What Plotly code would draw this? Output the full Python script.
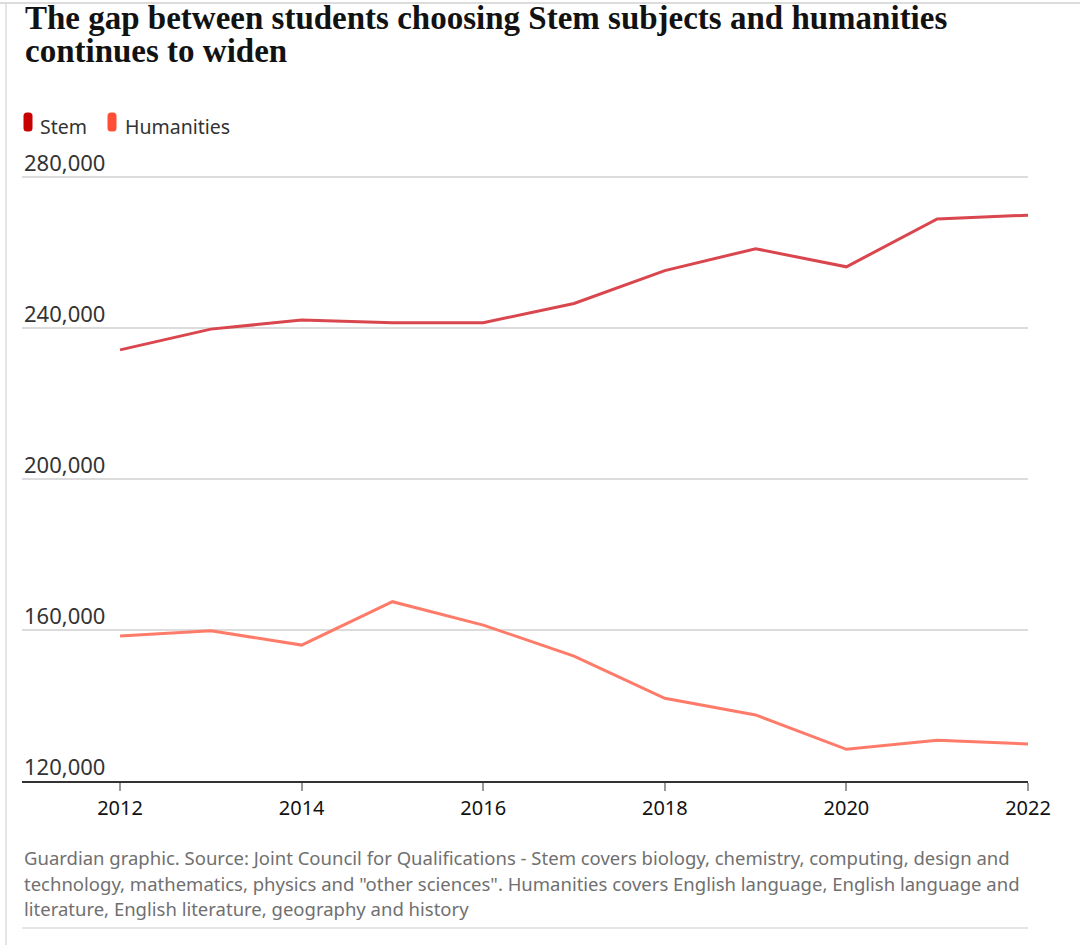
import plotly.graph_objects as go

years = [2012, 2013, 2014, 2015, 2016, 2017, 2018, 2019, 2020, 2021, 2022]
stem = [234200, 239700, 242100, 241400, 241400, 246500, 255200, 261000, 256200, 268900, 269900]
humanities = [158400, 159800, 156000, 167500, 161300, 153100, 141900, 137500, 128400, 130800, 129800]
y_ticks = [120000, 160000, 200000, 240000, 280000]
x_ticks = [2012, 2014, 2016, 2018, 2020, 2022]

title_lines = ["The gap between students choosing Stem subjects and humanities",
               "continues to widen"]
footer_lines = ["Guardian graphic. Source: Joint Council for Qualifications - Stem covers biology, chemistry, computing, design and",
                "technology, mathematics, physics and \"other sciences\". Humanities covers English language, English language and",
                "literature, English literature, geography and history"]

W, H = 1080, 945
L, R, T, B = 22, 52, 175, 164
PW, PH = W - L - R, H - T - B


def px(x):
    return (x - L) / PW


def py(y):
    return (H - B - y) / PH


SANS = "Noto Sans"
fig = go.Figure()
fig.add_trace(go.Scatter(x=years, y=stem, mode="lines", name="Stem",
                         line=dict(color="#d9464e", width=3), hoverinfo="skip"))
fig.add_trace(go.Scatter(x=years, y=humanities, mode="lines", name="Humanities",
                         line=dict(color="#ff7b69", width=3), hoverinfo="skip"))


def pill(x0, y0, w, h, r, color):
    x1, y1 = x0 + w, y0 + h
    pts = (f"M {px(x0 + r)},{py(y0)} L {px(x1 - r)},{py(y0)} "
           f"Q {px(x1)},{py(y0)} {px(x1)},{py(y0 + r)} "
           f"L {px(x1)},{py(y1 - r)} Q {px(x1)},{py(y1)} {px(x1 - r)},{py(y1)} "
           f"L {px(x0 + r)},{py(y1)} Q {px(x0)},{py(y1)} {px(x0)},{py(y1 - r)} "
           f"L {px(x0)},{py(y0 + r)} Q {px(x0)},{py(y0)} {px(x0 + r)},{py(y0)} Z")
    return dict(type="path", xref="paper", yref="paper", path=pts, fillcolor=color,
                line=dict(width=0), layer="above")


shapes = [
    pill(23.5, 112.5, 9, 19, 3.5, "#c70000"),
    pill(107.5, 112.5, 9, 19, 3.5, "#ff4e36"),
    dict(type="line", xref="paper", yref="paper", x0=px(0), x1=px(1080), y0=py(3), y1=py(3),
         line=dict(color="#dcdcdc", width=2)),
    dict(type="line", xref="paper", yref="paper", x0=px(6), x1=px(6), y0=py(3), y1=py(945),
         line=dict(color="#dcdcdc", width=1.5)),
    dict(type="line", xref="paper", yref="paper", x0=px(22), x1=px(1028), y0=py(928), y1=py(928),
         line=dict(color="#dcdcdc", width=1.5)),
]

annotations = []
for i, (line, top) in enumerate(zip(title_lines, [-2, 31])):
    annotations.append(dict(text=line, xref="paper", yref="paper", x=px(23), y=py(top),
                            xanchor="left", yanchor="top", showarrow=False, align="left",
                            font=dict(family="Liberation Serif", size=33, color="#121212", weight="bold")))
annotations += [
    dict(text="Stem", xref="paper", yref="paper", x=px(38), y=py(126), xanchor="left", yanchor="middle",
         showarrow=False, font=dict(family=SANS, size=19.5, color="#333333")),
    dict(text="Humanities", xref="paper", yref="paper", x=px(123), y=py(126), xanchor="left", yanchor="middle",
         showarrow=False, font=dict(family=SANS, size=19.5, color="#333333")),
]
for i, line in enumerate(footer_lines):
    annotations.append(dict(text=line, xref="paper", yref="paper", x=px(22), y=py(857 + 26 * i),
                            xanchor="left", yanchor="middle", showarrow=False, align="left",
                            font=dict(family=SANS, size=18.5, color="#707070")))
# y-axis tick labels sit above their gridlines, left-aligned
for v in y_ticks:
    annotations.append(dict(text=f"{v:,}", xref="paper", yref="y", x=0, y=v,
                            xanchor="left", yanchor="bottom", yshift=-2, showarrow=False,
                            font=dict(family=SANS, size=22, color="#333333")))

y_top = 120000 + (781 - T) * (160000 / 604)

fig.update_layout(
    width=W, height=H,
    margin=dict(l=L, r=R, t=T, b=B, pad=0),
    paper_bgcolor="white", plot_bgcolor="white",
    showlegend=False,
    shapes=shapes,
    annotations=annotations,
    xaxis=dict(range=[2010.92, 2022], tickvals=x_ticks, ticktext=[str(v) for v in x_ticks],
               showgrid=False, zeroline=False, showline=True, linecolor="#333333", linewidth=1.5,
               ticks="outside", ticklen=8, tickcolor="#999999", tickwidth=1.5,
               tickfont=dict(family=SANS, size=20, color="#121212")),
    yaxis=dict(range=[120000, y_top], tickvals=y_ticks, showticklabels=False,
               showgrid=True, gridcolor="#dcdcdc", gridwidth=1.5, zeroline=False, showline=False,
               ticks=""),
)

fig.write_html("out.html", config={"displayModeBar": False},
               post_script="document.body.style.margin='0';")
